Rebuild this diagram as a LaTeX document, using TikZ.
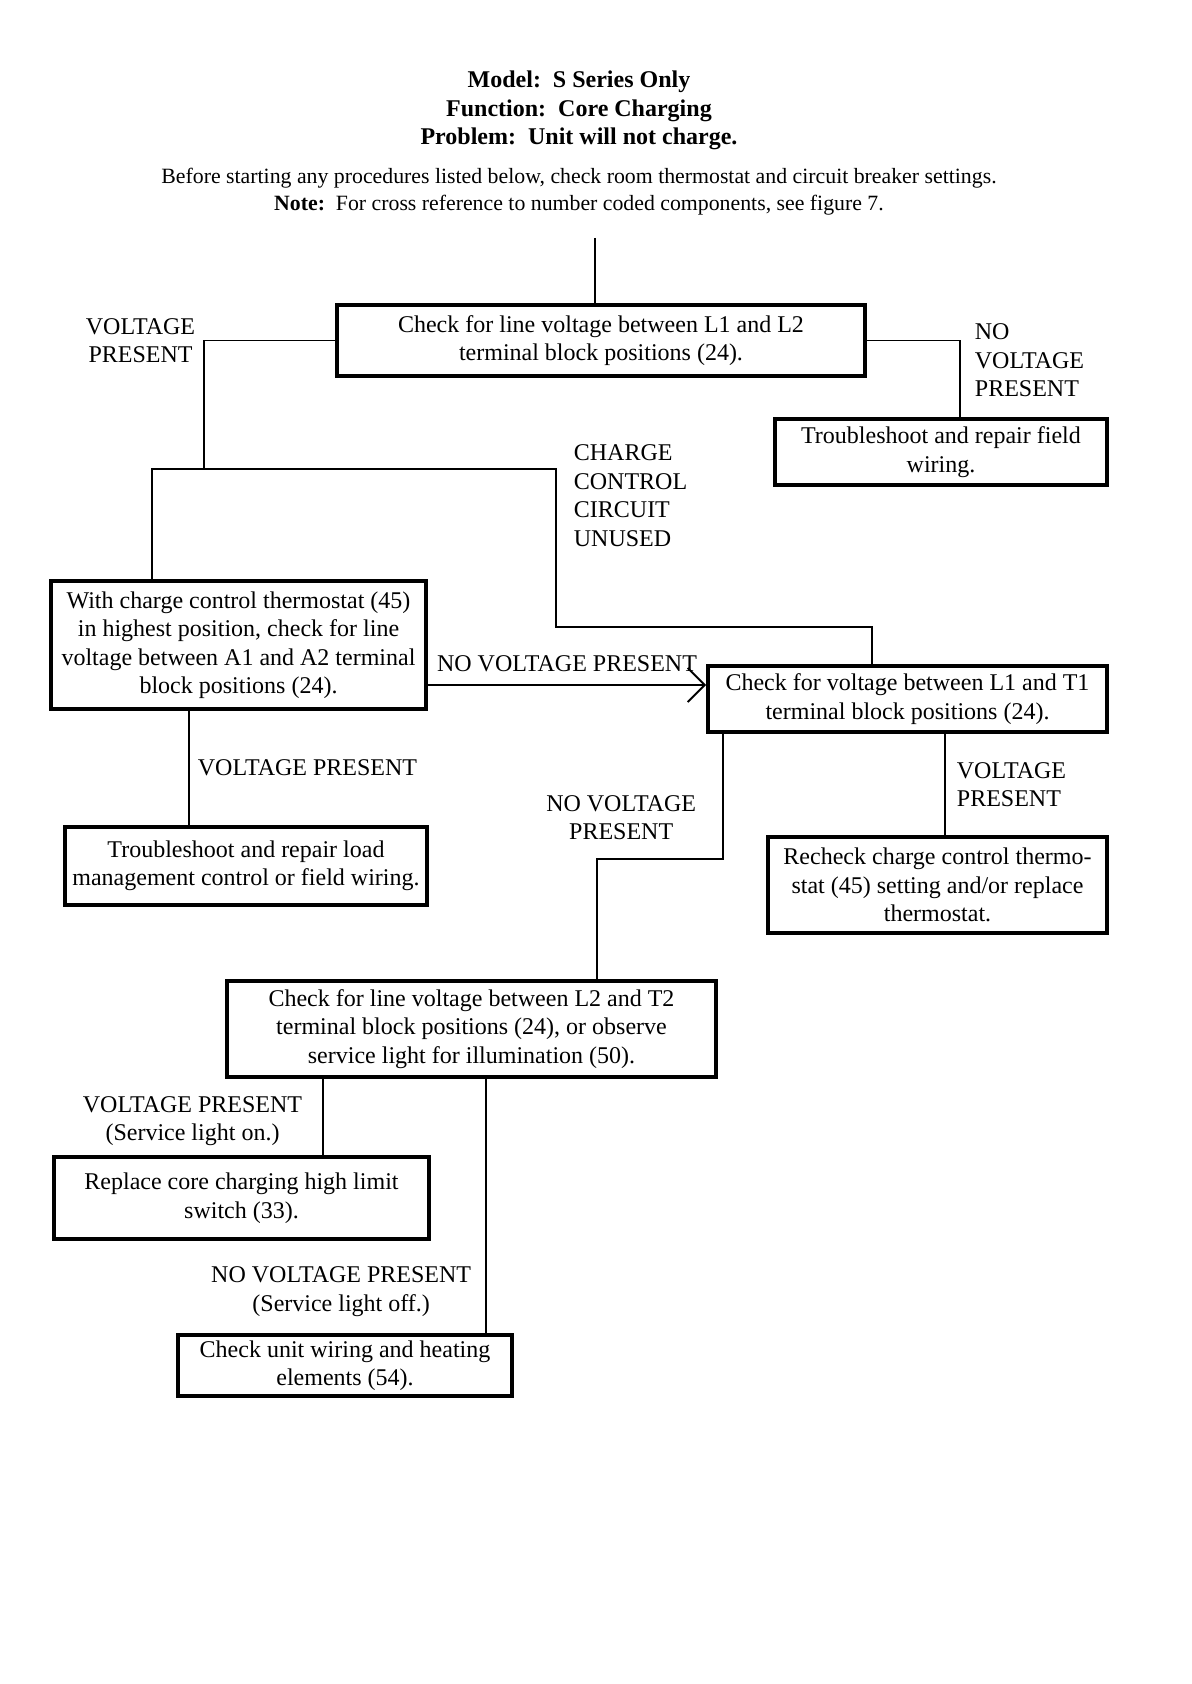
\documentclass[tikz,border=0pt]{standalone}
\usepackage{fontspec}
\setmainfont{Liberation Serif}
\usetikzlibrary{arrows.meta}
\newcommand{\chartfont}{\fontsize{12pt}{14.25pt}\selectfont}
\newcommand{\remarkfont}{\fontsize{10.9pt}{13.5pt}\selectfont}
\tikzstyle{chartbox} = [rectangle, draw=black, line width=2pt, align=center, inner sep=2pt, font=\chartfont]
\tikzstyle{branchtext} = [font=\chartfont, inner sep=4pt]
\tikzstyle{headtext} = [align=center, font=\chartfont\bfseries]
\tikzstyle{remarktext} = [align=center, font=\remarkfont]
\tikzstyle{wire} = [line width=0.9pt]
\tikzstyle{arrow} = [line width=0.9pt, -{Straight Barb[length=8.5pt, width=17pt]}]

\begin{document}
\begin{tikzpicture}[x=1pt, y=1pt, node distance=40pt]
\useasboundingbox (0,0) rectangle (595.5,-842);

% heading
\node (heading) [headtext] at (289.5,-55.25) {Model:\ \ S Series Only\\Function:\ \ Core Charging\\Problem:\ \ Unit will not charge.};
\node (remark) [remarktext, below of=heading, yshift=-0.5pt] {Before starting any procedures listed below, check room thermostat and circuit breaker settings.\\\textbf{Note:}\ \ For cross reference to number coded components, see figure 7.};

% boxes
\node (line12) [chartbox, minimum width=264pt, minimum height=35.5pt] at (300.5,-170.25) {Check for line voltage between L1 and L2\\terminal block positions (24).};
\node (field) [chartbox, below of=line12, xshift=170pt, yshift=-15.75pt, minimum width=166pt, minimum height=33pt] {Troubleshoot and repair field\\wiring.};
\node (a1a2) [chartbox, below of=line12, xshift=-181.25pt, yshift=-112.25pt, minimum width=187.5pt, minimum height=64pt] {With charge control thermostat (45)\\in highest position, check for line\\voltage between A1 and A2 terminal\\block positions (24).};
\node (l1t1) [chartbox, right of=a1a2, xshift=294.5pt, yshift=-27pt, minimum width=199.5pt, minimum height=33pt] {Check for voltage between L1 and T1\\terminal block positions (24).};
\node (loadmgmt) [chartbox, below of=a1a2, xshift=3.75pt, yshift=-70.5pt, minimum width=181pt, minimum height=39pt] {Troubleshoot and repair load\\management control or field wiring.};
\node (recheck) [chartbox, below of=l1t1, xshift=15pt, yshift=-53pt, minimum width=169.5pt, minimum height=48pt] {Recheck charge control thermo-\\stat (45) setting and/or replace\\thermostat.};
\node (l2t2) [chartbox, below of=l1t1, xshift=-218pt, yshift=-125pt, minimum width=244.5pt, minimum height=48pt] {Check for line voltage between L2 and T2\\terminal block positions (24), or observe\\service light for illumination (50).};
\node (replace) [chartbox, below of=l2t2, xshift=-115pt, yshift=-44.5pt, minimum width=187.5pt, minimum height=41pt] {Replace core charging high limit\\switch (33).};
\node (wiring) [chartbox, below of=replace, xshift=51.75pt, yshift=-43.75pt, minimum width=167pt, minimum height=30.5pt] {Check unit wiring and heating\\elements (54).};

% bends and columns of the connectors
\coordinate (entry) at (297.5,-119);
\coordinate (vpleft) at (102,-234.5);
\coordinate (barleft) at (76,-234.5);
\coordinate (barright) at (278,-234.5);
\coordinate (ccjoin) at (436,-313.5);
\coordinate (nvjoin) at (298.5,-429.5);
\coordinate (colA) at (94.5,0);
\coordinate (colB) at (472.5,0);
\coordinate (colC) at (361.5,0);
\coordinate (colD) at (161.5,0);
\coordinate (colE) at (243,0);
\coordinate (colF) at (480,0);

\draw [wire] (entry) -- (entry |- line12.north);
\draw [wire] (line12.west) -| node (vp1) [branchtext, left, align=center] {VOLTAGE\\PRESENT} (vpleft);
\draw [wire] (line12.east) -| node (nvp1) [branchtext, right=3pt, yshift=-10pt, align=left] {NO\\VOLTAGE\\PRESENT} (field.north -| colF);
\draw [wire] (a1a2.north -| barleft) |- (barright) |- node (ccu) [branchtext, right=4.5pt, pos=0.084, align=left] {CHARGE\\CONTROL\\CIRCUIT\\UNUSED} (ccjoin) -- (ccjoin |- l1t1.north);
\draw [arrow] ([yshift=-20pt]a1a2.east) -- node (nvp2) [branchtext, above=2pt] {NO VOLTAGE PRESENT} ([yshift=7pt]l1t1.west);
\draw [wire] (a1a2.south -| colA) -- node (vp2) [branchtext, right] {VOLTAGE PRESENT} (loadmgmt.north -| colA);
\draw [wire] (l1t1.south -| colB) -- node (vp3) [branchtext, right=1.5pt, align=left] {VOLTAGE\\PRESENT} (recheck.north -| colB);
\draw [wire] (l1t1.south -| colC) |- node (nvp3) [branchtext, left=9pt, pos=0.334, align=center] {NO VOLTAGE\\PRESENT} (nvjoin) -- (nvjoin |- l2t2.north);
\draw [wire] (l2t2.south -| colD) -- node (vp4) [branchtext, left=6pt, yshift=-2pt, align=center] {VOLTAGE PRESENT\\(Service light on.)} (replace.north -| colD);
\draw [wire] (l2t2.south -| colE) -- node (nvp4) [branchtext, left=3pt, pos=0.837, align=center] {NO VOLTAGE PRESENT\\(Service light off.)} (wiring.north -| colE);
\end{tikzpicture}
\end{document}
